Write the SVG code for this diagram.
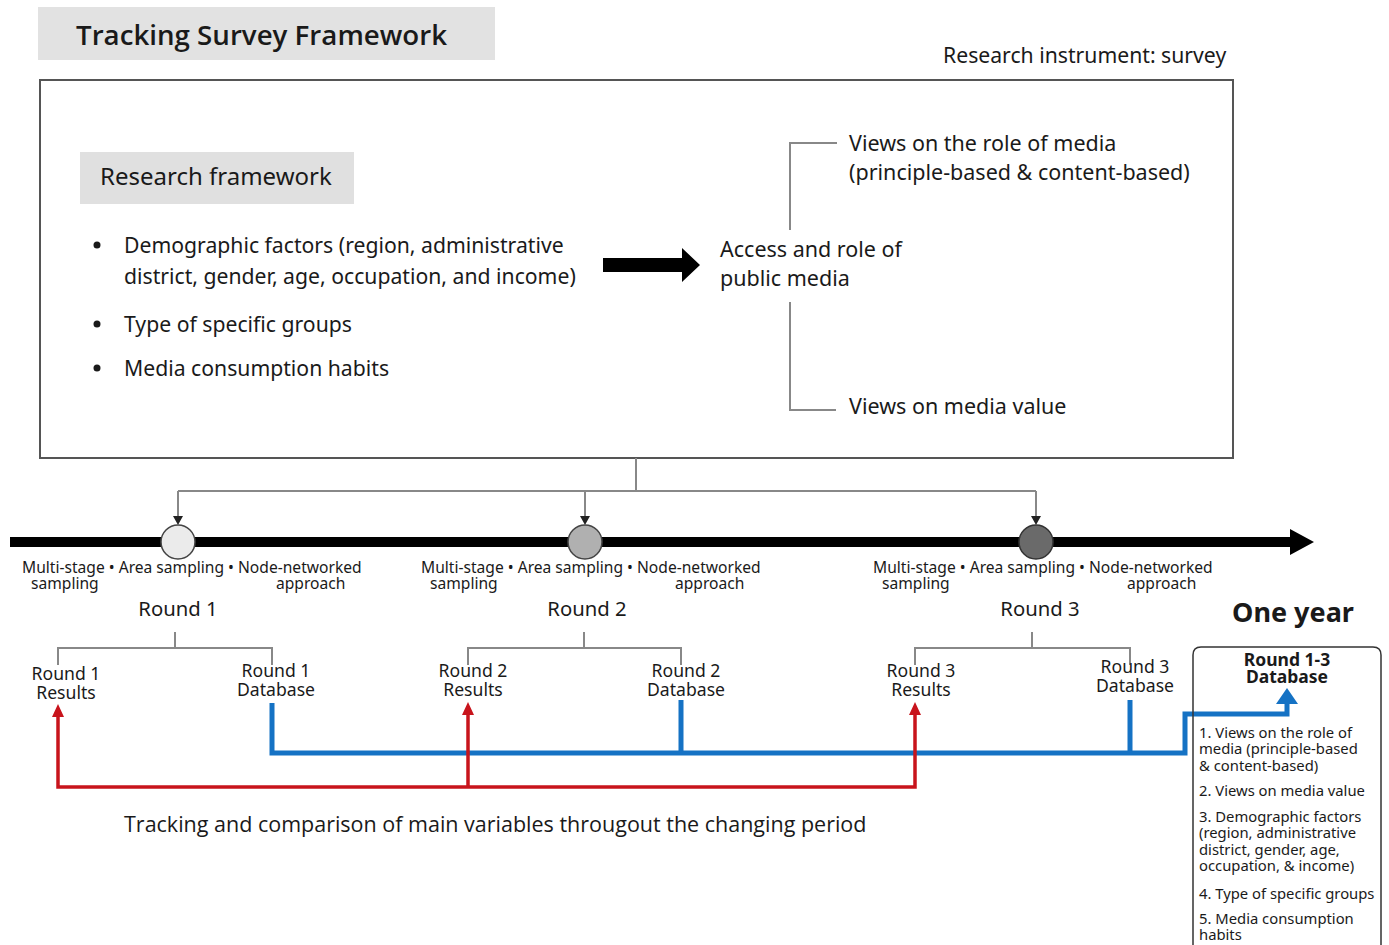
<svg xmlns="http://www.w3.org/2000/svg" width="1389" height="945" viewBox="0 0 1389 945">
<defs>
<style>
text{font-family:"Noto Sans","Liberation Sans",sans-serif;fill:#1a1a1a}
.b{font-size:21.2px}
.v{font-size:21.5px}
.s{font-size:15.6px}
.r{font-size:20.3px}
.l{font-size:17.6px}
.m{font-size:14.8px}
.c{text-anchor:middle}
.gl{fill:none;stroke:#888;stroke-width:2}
</style>
</defs>
<rect width="1389" height="945" fill="#fff"/>

<g id="title">
<rect x="38" y="7" width="457" height="53" fill="#e2e2e2"/>
<text x="76" y="45" style="font-family:'Open Sans','Noto Sans',sans-serif;font-size:27.7px;font-weight:600">Tracking Survey Framework</text>
</g>
<text x="943" y="63" class="b">Research instrument: survey</text>

<g id="framework">
<rect x="40" y="80" width="1193" height="378" fill="#fff" stroke="#555" stroke-width="2"/>
<rect x="80" y="152" width="274" height="52" fill="#e0e0e0"/>
<text x="100" y="185" style="font-size:24px">Research framework</text>
<circle cx="97" cy="245" r="3.5" fill="#1a1a1a"/>
<text x="124" y="253" class="b">Demographic factors (region, administrative</text>
<text x="124" y="284" class="b">district, gender, age, occupation, and income)</text>
<circle cx="97" cy="324" r="3.5" fill="#1a1a1a"/>
<text x="124" y="332" class="b">Type of specific groups</text>
<circle cx="97" cy="368" r="3.5" fill="#1a1a1a"/>
<text x="124" y="376" class="b">Media consumption habits</text>
<path d="M603,258 L682,258 L682,248 L700,265 L682,282 L682,272 L603,272 Z" fill="#000"/>
<text x="720" y="257" class="v">Access and role of</text>
<text x="720" y="286" class="v">public media</text>
<path class="gl" d="M837,143 L790,143 L790,230 M790,302 L790,410 L836,410"/>
<text x="849" y="151" class="v">Views on the role of media</text>
<text x="849" y="180" class="v">(principle-based &amp; content-based)</text>
<text x="849" y="414" class="v">Views on media value</text>
</g>

<g id="connectors">
<path class="gl" d="M636,458 L636,491 M178,491 L1036,491 M178,491 L178,518 M585,491 L585,518 M1036,491 L1036,518"/>
<path d="M173,516 L183,516 L178,525 Z M580,516 L590,516 L585,525 Z M1031,516 L1041,516 L1036,525 Z" fill="#222"/>
<path d="M10,537 L1290,537 L1290,529 L1314,542 L1290,555 L1290,547 L10,547 Z" fill="#000"/>
<path class="gl" d="M175,632 L175,648 M58,665 L58,648 L272,648 L272,665"/>
<path class="gl" d="M584,632 L584,648 M468,665 L468,648 L681,648 L681,665"/>
<path class="gl" d="M1032,632 L1032,648 M915,665 L915,648 L1130,648 L1130,665"/>
<path d="M272,703 L272,753 L1185,753 L1185,714 L1287,714 L1287,700 M681,700 L681,753 M1130,700 L1130,753" fill="none" stroke="#1572c4" stroke-width="5"/>
<path d="M1276,704 L1287,688 L1298,704 Z" fill="#1572c4"/>
<path d="M58,716 L58,787 L915,787 L915,714 M468,714 L468,787" fill="none" stroke="#c8141c" stroke-width="3.5"/>
<path d="M52,717 L58,704 L64,717 Z M462,715 L468,702 L474,715 Z M909,715 L915,702 L921,715 Z" fill="#c8141c"/>
</g>

<g id="round1">
<circle cx="178" cy="542" r="17" fill="#ebebeb" stroke="#444" stroke-width="1.5"/>
<text x="22" y="573" class="s">Multi-stage • Area sampling • Node-networked</text>
<text x="31" y="589" class="s">sampling</text>
<text x="276" y="589" class="s">approach</text>
<text x="178" y="616" class="r c">Round 1</text>
<text x="66" y="680" class="l c">Round 1</text>
<text x="66" y="699" class="l c">Results</text>
<text x="276" y="677" class="l c">Round 1</text>
<text x="276" y="696" class="l c">Database</text>
</g>

<g id="round2">
<circle cx="585" cy="542" r="17" fill="#b0b0b0" stroke="#444" stroke-width="1.5"/>
<text x="421" y="573" class="s">Multi-stage • Area sampling • Node-networked</text>
<text x="430" y="589" class="s">sampling</text>
<text x="675" y="589" class="s">approach</text>
<text x="587" y="616" class="r c">Round 2</text>
<text x="473" y="677" class="l c">Round 2</text>
<text x="473" y="696" class="l c">Results</text>
<text x="686" y="677" class="l c">Round 2</text>
<text x="686" y="696" class="l c">Database</text>
</g>

<g id="round3">
<circle cx="1036" cy="542" r="17" fill="#6a6a6a" stroke="#333" stroke-width="1.5"/>
<text x="873" y="573" class="s">Multi-stage • Area sampling • Node-networked</text>
<text x="882" y="589" class="s">sampling</text>
<text x="1127" y="589" class="s">approach</text>
<text x="1040" y="616" class="r c">Round 3</text>
<text x="921" y="677" class="l c">Round 3</text>
<text x="921" y="696" class="l c">Results</text>
<text x="1135" y="673" class="l c">Round 3</text>
<text x="1135" y="692" class="l c">Database</text>
</g>

<text x="1293" y="622" class="c" style="font-size:27px;font-weight:bold">One year</text>

<g id="database">
<path d="M1193,950 L1193,655 Q1193,647 1201,647 L1373,647 Q1381,647 1381,655 L1381,950" fill="none" stroke="#333" stroke-width="1.5"/>
<text x="1287" y="666" class="c" style="font-size:17.5px;font-weight:bold">Round 1-3</text>
<text x="1287" y="683" class="c" style="font-size:17.5px;font-weight:bold">Database</text>
<text x="1199" y="738" class="m">1. Views on the role of</text>
<text x="1199" y="754" class="m">media (principle-based</text>
<text x="1199" y="771" class="m">&amp; content-based)</text>
<text x="1199" y="796" class="m">2. Views on media value</text>
<text x="1199" y="822" class="m">3. Demographic factors</text>
<text x="1199" y="838" class="m">(region, administrative</text>
<text x="1199" y="855" class="m">district, gender, age,</text>
<text x="1199" y="871" class="m">occupation, &amp; income)</text>
<text x="1199" y="899" class="m">4. Type of specific groups</text>
<text x="1199" y="924" class="m">5. Media consumption</text>
<text x="1199" y="940" class="m">habits</text>
</g>

<text x="124" y="832" style="font-family:'Open Sans','Noto Sans',sans-serif;font-size:21.5px">Tracking and comparison of main variables througout the changing period</text>
</svg>
